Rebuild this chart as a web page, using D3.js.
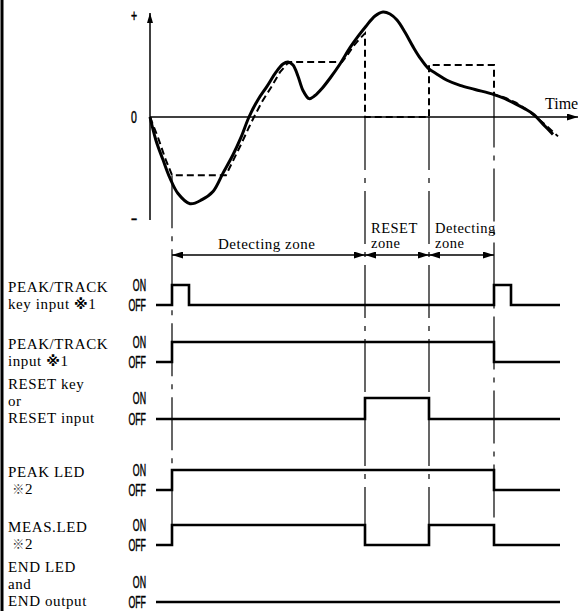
<!DOCTYPE html>
<html>
<head>
<meta charset="utf-8">
<script src="https://cdn.jsdelivr.net/npm/d3@7"></script>
<style>
html,body{margin:0;padding:0;background:#fff;}
svg{display:block;}
</style>
</head>
<body>
<script>
// ---------- DATA ----------
// Measured value (solid curve): [time, value]
const measuredT = [0, 6, 13, 20, 28, 40, 52, 63, 73, 83, 91, 99, 108, 117, 126, 133, 138, 143, 148, 153, 159, 165, 172, 180, 190, 200, 208, 216, 225, 233, 240, 247, 255, 263, 270, 278, 287, 297, 310, 325, 344, 355, 365, 375, 383, 393, 403];
const measuredV = [0, -23, -42, -60, -75, -85, -81, -73, -55, -37, -20, 0, 17, 30, 44, 52, 54, 51, 40, 26, 18, 21, 28, 38, 52, 68, 79, 89, 99, 103, 101, 95, 83, 69, 58, 48, 42, 36, 31, 27, 22, 18, 13, 8, 3, -7, -17];
// Displayed (held) value (dashed line): [time, value]
const heldT = [0, 8, 15, 22, 76, 83, 91, 99, 104, 112, 121, 130, 137, 141, 192, 197, 203, 209, 215, 215, 279, 279, 344, 344, 355, 366, 377, 386, 397, 408];
const heldV = [0, -20, -40, -57, -57, -43, -27, -10, 0, 15, 29, 44, 52, 54, 54, 60, 69, 76, 82, 0, 0, 51, 51, 22, 19, 14, 7, 0, -9, -19];
// Event times (zone boundaries)
const eventTimes = [22, 215, 279, 344];
const zoneLabels = [["Detecting zone"], ["RESET", "zone"], ["Detecting", "zone"]];
// Timing signals
const signalNames = [
  ["PEAK/TRACK", "key input ※1"],
  ["PEAK/TRACK", "input ※1"],
  ["RESET key", "or", "RESET input"],
  ["PEAK LED", " ※2"],
  ["MEAS.LED", " ※2"],
  ["END LED", "and", "END output"]
];
const keyInputT = [6, 22, 39, 344, 361, 410];
const keyInputS = [0, 1, 0, 1, 0, 0];
const ptInputT = [6, 22, 344, 410];
const ptInputS = [0, 1, 0, 0];
const resetInputT = [6, 215, 279, 410];
const resetInputS = [0, 1, 0, 0];
const peakLedT = [6, 22, 344, 410];
const peakLedS = [0, 1, 0, 0];
const measLedT = [6, 22, 215, 279, 344, 410];
const measLedS = [0, 1, 0, 1, 0, 0];
const endLedT = [6, 410];
const endLedS = [0, 0];
const stateLabels = ["OFF", "ON"];
const axisLabels = ["+", "0", "\u2212"];

// ---------- LAYOUT ----------
const W = 579, H = 611;
const svg = d3.select("body").append("svg").attr("width", W).attr("height", H);

const x = d3.scaleLinear().domain([0, 428]).range([150, 578]);
const y = d3.scaleLinear().domain([-100, 100]).range([219, 15]);

const serif = "'Liberation Serif', 'Times New Roman', serif";
const sans = "'Liberation Sans', Arial, sans-serif";

// condensed text helper
function condText(txt, cx, by, size, sx, anchor) {
  const g = svg.append("g").attr("transform", `translate(${cx},${by}) scale(${sx},1)`);
  g.append("text").attr("x", 0).attr("y", 0).attr("text-anchor", anchor)
    .attr("font-family", sans).attr("font-size", size).attr("fill", "#000")
    .attr("stroke", "#000").attr("stroke-width", 0.5).text(txt);
  return g;
}

// left border
svg.append("line").attr("x1", 2).attr("x2", 2).attr("y1", 0).attr("y2", H)
  .attr("stroke", "#000").attr("stroke-width", 3);

// arrow markers
const defs = svg.append("defs");
defs.append("marker").attr("id", "arr").attr("viewBox", "0 0 10 6")
  .attr("refX", 10).attr("refY", 3).attr("markerWidth", 10).attr("markerHeight", 6)
  .attr("markerUnits", "userSpaceOnUse").attr("orient", "auto")
  .append("path").attr("d", "M0,0L10,3L0,6Z").attr("fill", "#000");
defs.append("marker").attr("id", "arrS").attr("viewBox", "0 0 11 7")
  .attr("refX", 11).attr("refY", 3.5).attr("markerWidth", 11).attr("markerHeight", 7)
  .attr("markerUnits", "userSpaceOnUse").attr("orient", "auto-start-reverse")
  .append("path").attr("d", "M0,0L11,3.5L0,7Z").attr("fill", "#000");

// axes
svg.append("line").attr("x1", x(0)).attr("x2", x(0)).attr("y1", y(-100) + 1).attr("y2", 13)
  .attr("stroke", "#000").attr("stroke-width", 1.5).attr("marker-end", "url(#arr)");
svg.append("line").attr("x1", x(0)).attr("x2", x(428)).attr("y1", y(0)).attr("y2", y(0))
  .attr("stroke", "#000").attr("stroke-width", 1.5).attr("marker-end", "url(#arrS)");
axisLabels.forEach((d, i) => {
  condText(d, 134, y([100, 0, -100][i]) + 6, 17, 0.62, "middle");
});
svg.append("text").attr("x", 545).attr("y", 109).attr("font-family", serif)
  .attr("font-size", 16).text("Time");

// vertical reference lines
const refTop = [y(-57), y(0), y(0), y(22)];
svg.selectAll("line.ref").data(eventTimes).enter().append("line")
  .attr("x1", d => x(d)).attr("x2", d => x(d))
  .attr("y1", (d, i) => refTop[i]).attr("y2", 546)
  .attr("stroke", "#000").attr("stroke-width", 1.2)
  .attr("stroke-dasharray", "53,8,5,8");

// measured curve
const measured = measuredT.map((t, i) => [t, measuredV[i]]);
svg.append("path").datum(measured)
  .attr("d", d3.line().x(d => x(d[0])).y(d => y(d[1])).curve(d3.curveCatmullRom.alpha(0.5)))
  .attr("fill", "none").attr("stroke", "#000").attr("stroke-width", 3);
// held value
const held = heldT.map((t, i) => [t, heldV[i]]);
svg.append("path").datum(held)
  .attr("d", d3.line().x(d => x(d[0])).y(d => y(d[1])))
  .attr("fill", "none").attr("stroke", "#000").attr("stroke-width", 2)
  .attr("stroke-dasharray", "7,4");

// zone arrows
const zy = 255;
for (let i = 0; i < eventTimes.length - 1; i++) {
  svg.append("line").attr("x1", x(eventTimes[i])).attr("x2", x(eventTimes[i + 1]))
    .attr("y1", zy).attr("y2", zy).attr("stroke", "#000").attr("stroke-width", 1.3)
    .attr("marker-start", "url(#arrS)").attr("marker-end", "url(#arrS)");
}
// zone labels
svg.append("text").attr("x", 218).attr("y", 249)
  .attr("font-family", serif).attr("font-size", 15).attr("letter-spacing", 0.5)
  .text(zoneLabels[0][0]);
[1, 2].forEach(z => {
  zoneLabels[z].forEach((s, j) => {
    svg.append("text").attr("x", x(eventTimes[z]) + 6).attr("y", 233 + j * 15)
      .attr("font-family", serif).attr("font-size", 14.5).attr("letter-spacing", 0.5).text(s);
  });
});

// signals
const rows = [
  {T: keyInputT, S: keyInputS, on: 285, off: 305},
  {T: ptInputT, S: ptInputS, on: 342, off: 362},
  {T: resetInputT, S: resetInputS, on: 398, off: 419},
  {T: peakLedT, S: peakLedS, on: 470, off: 490},
  {T: measLedT, S: measLedS, on: 525, off: 545},
  {T: endLedT, S: endLedS, on: 582, off: 602}
];
rows.forEach((r, k) => {
  const ys = d3.scaleLinear().domain([0, 1]).range([r.off, r.on]);
  const pts = r.T.map((t, i) => [t, r.S[i]]);
  svg.append("path").datum(pts)
    .attr("d", d3.line().x(d => x(d[0])).y(d => ys(d[1])).curve(d3.curveStepAfter))
    .attr("fill", "none").attr("stroke", "#000").attr("stroke-width", 2.6);
  // ON / OFF
  stateLabels.forEach((lab, s) => {
    condText(lab, 146, ys(s) + 6, 16, 0.55, "end");
  });
  // name
  const names = signalNames[k];
  const n = names.length;
  names.forEach((s, j) => {
    const t = svg.append("text").attr("x", 8).attr("y", r.off + 4 - 17 * (n - 1 - j))
      .attr("font-family", serif).attr("font-size", 15).attr("letter-spacing", 0.6)
      .attr("xml:space", "preserve");
    const m = s.match(/^(.*?)(※)(\d)$/);
    if (m) {
      t.append("tspan").text(m[1]);
      if (k < 2) {
        t.append("tspan").attr("font-family", "'DejaVu Sans', sans-serif")
          .attr("font-weight", 700).attr("font-size", 14).text(m[2]);
      } else {
        t.append("tspan").attr("font-family", "'Noto Sans CJK JP', sans-serif")
          .attr("font-weight", 300).attr("font-size", 12).attr("fill", "#333").text(m[2]);
      }
      t.append("tspan").text(m[3]);
    } else {
      t.text(s);
    }
  });
});
</script>
</body>
</html>
